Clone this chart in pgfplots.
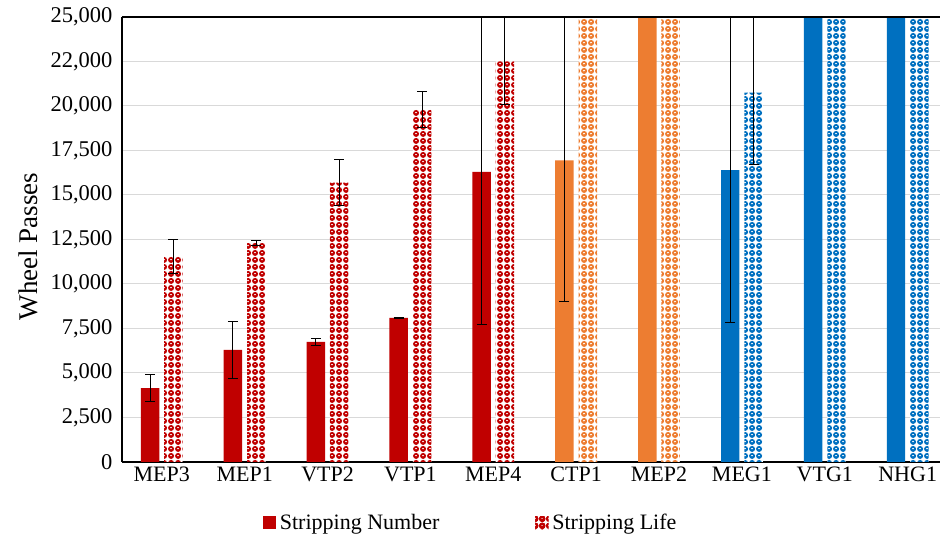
\documentclass[border=0pt]{standalone}
\usepackage{fontspec}
\setmainfont{Liberation Serif}
\usepackage{pgfplots}
\usepackage{pgfplotstable}
\pgfplotsset{compat=1.18}
\usetikzlibrary{patterns}
\definecolor{cred}{HTML}{C00000}
\definecolor{corange}{HTML}{ED7D31}
\definecolor{cblue}{HTML}{0070C0}
\definecolor{cgrid}{HTML}{D9D9D9}
\pgfdeclarepatternformonly{rings}{\pgfqpoint{0pt}{0pt}}{\pgfqpoint{7pt}{7pt}}{\pgfqpoint{7pt}{7pt}}{%
  \pgfsetlinewidth{1.9pt}%
  \pgfpathcircle{\pgfqpoint{3.5pt}{3.5pt}}{2.4pt}%
  \pgfusepath{stroke}%
  \pgfpathcircle{\pgfqpoint{3.5pt}{2.7pt}}{1.1pt}%
  \pgfusepath{fill}%
}

\pgfplotstableread{
x y ep em
0 4150 750 750
1 6300 1600 1600
2 6750 180 180
3 8100 40 40
4 16300 9500 8600
}\numred
\pgfplotstableread{
x y ep em
0 11550 950 950
1 12300 150 150
2 15700 1300 1300
3 19800 1000 1000
4 22500 3000 2400
}\lifered
\pgfplotstableread{
x y ep em
5 16950 9000 7950
6 25000 0 0
}\numorange
\pgfplotstableread{
x y
5 25000
6 25000
}\lifeorange
\pgfplotstableread{
x y ep em
7 16400 9500 8560
8 25000 0 0
9 25000 0 0
}\numblue
\pgfplotstableread{
x y ep em
7 20750 5000 4050
8 25000 0 0
9 25000 0 0
}\lifeblue

\begin{document}
\begin{tikzpicture}
\begin{axis}[
  scale only axis,
  width=818pt, height=445pt,
  xmin=-0.48, xmax=9.39,
  ymin=0, ymax=25000,
  scaled y ticks=false,
  ybar, bar width=0.223,
  axis x line*=bottom, axis y line*=left,
  axis line style={-, black, line width=1.2pt},
  major tick length=0pt,
  ymajorgrids, grid style={cgrid, line width=1pt},
  xtick={0,1,2,3,4,5,6,7,8,9},
  xticklabels={MEP3,MEP1,VTP2,VTP1,MEP4,CTP1,MEP2,MEG1,VTG1,NHG1},
  ytick={0,2500,5000,7500,10000,12500,15000,17500,20000,22500,25000},
  yticklabels={0,{2,500},{5,000},{7,500},{10,000},{12,500},{15,000},{17,500},{20,000},{22,000},{25,000}},
  x tick label style={font=\fontsize{22}{24}\selectfont, yshift=-1pt},
  y tick label style={font=\fontsize{22.5}{24}\selectfont, xshift=-6pt},
  ylabel={Wheel Passes},
  ylabel style={font=\fontsize{27}{29}\selectfont, yshift=6pt, xshift=-7pt},
  legend columns=2,
  legend style={draw=none, at={(0.172,-0.137)}, anchor=west, inner sep=0pt,
    font=\fontsize{22}{24}\selectfont,
    nodes={inner sep=4pt},
    /tikz/every even column/.append style={column sep=92pt}},
  error bars/error bar style={black, line width=1pt},
  error bars/error mark options={black, rotate=90, mark size=5pt, line width=1pt},
]
\coordinate (bl) at (rel axis cs:0,0);
\coordinate (tl) at (rel axis cs:0,1);
\coordinate (tr) at (rel axis cs:1,1);
\addplot[fill=cred, draw=none, bar shift=-0.141,
  legend image code/.code={\fill[cred] (0pt,-6.5pt) rectangle (13pt,6.5pt);},
  error bars/.cd, y dir=both, y explicit]
  table[x=x, y=y, y error plus=ep, y error minus=em] {\numred};
\addlegendentry{Stripping Number}
\addplot[fill=white, draw=none, bar shift=0.141,
  postaction={pattern=rings, pattern color=cred},
  legend image code/.code={\fill[white] (0pt,-6.5pt) rectangle (13pt,6.5pt);
    \fill[pattern=rings, pattern color=cred] (0pt,-6.5pt) rectangle (13pt,6.5pt);},
  error bars/.cd, y dir=both, y explicit]
  table[x=x, y=y, y error plus=ep, y error minus=em] {\lifered};
\addlegendentry{Stripping Life}
\addplot[fill=corange, draw=none, bar shift=-0.141, forget plot,
  error bars/.cd, y dir=both, y explicit]
  table[x=x, y=y, y error plus=ep, y error minus=em] {\numorange};
\addplot[fill=white, draw=none, bar shift=0.141, forget plot,
  postaction={pattern=rings, pattern color=corange}]
  table[x=x, y=y] {\lifeorange};
\addplot[fill=cblue, draw=none, bar shift=-0.141, forget plot,
  error bars/.cd, y dir=both, y explicit]
  table[x=x, y=y, y error plus=ep, y error minus=em] {\numblue};
\addplot[fill=white, draw=none, bar shift=0.141, forget plot,
  postaction={pattern=rings, pattern color=cblue},
  error bars/.cd, y dir=both, y explicit]
  table[x=x, y=y, y error plus=ep, y error minus=em] {\lifeblue};
\end{axis}
\draw[black, line width=1.2pt] (tl) -- (tr);
\path ([shift={(-122pt,-81pt)}]bl) rectangle ([shift={(1pt,17pt)}]tr);
\end{tikzpicture}
\end{document}
